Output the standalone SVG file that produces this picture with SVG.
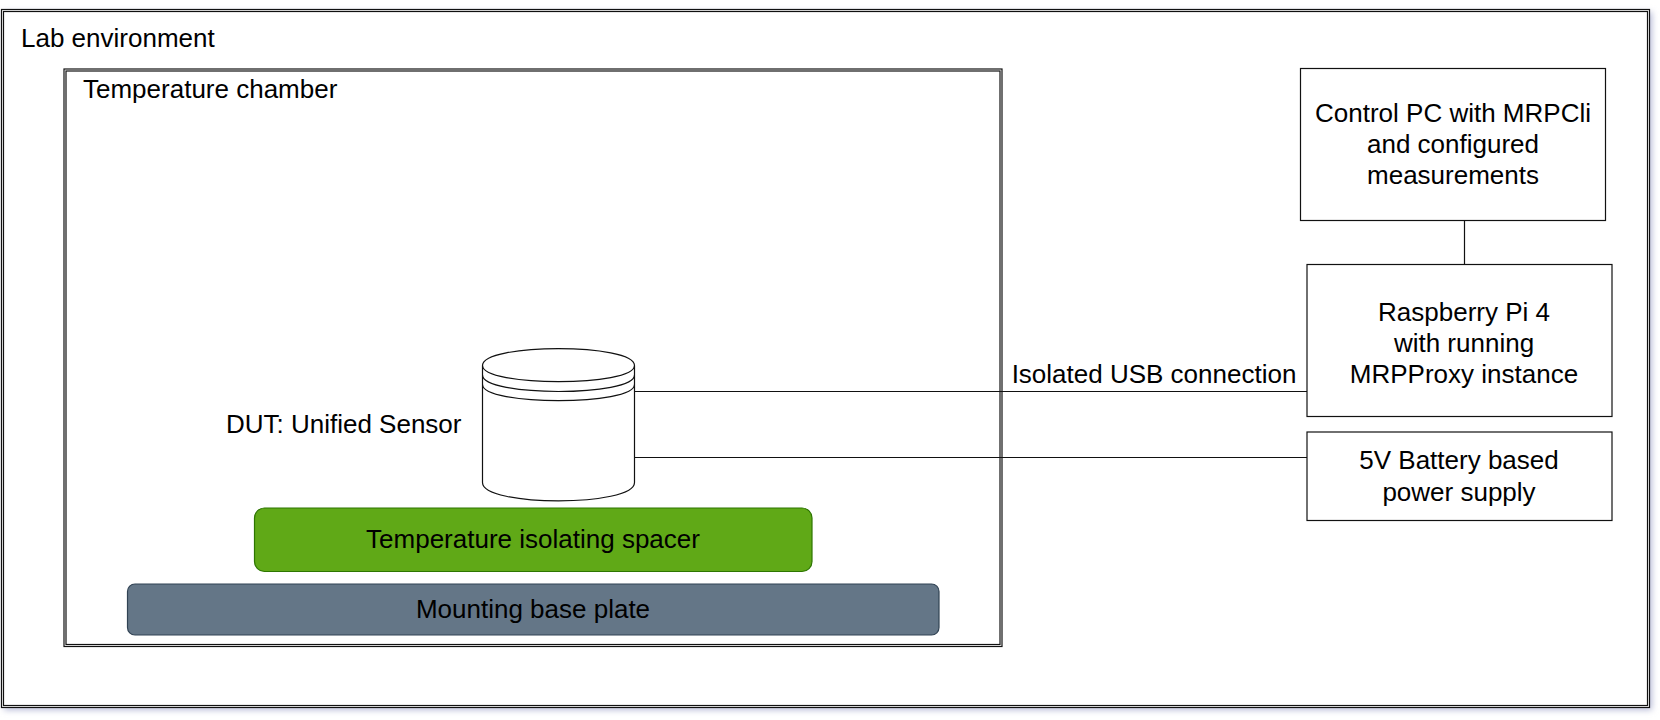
<svg xmlns="http://www.w3.org/2000/svg" width="1660" height="720" viewBox="0 0 1660 720">
<defs>
<filter id="shadow" x="-2%" y="-2%" width="104%" height="105%"><feGaussianBlur stdDeviation="3"/></filter>
</defs>
<style>
text{font-family:"Liberation Sans",Arial,sans-serif;font-size:26px;fill:#000}
.m{text-anchor:middle}
.b{fill:#fff;stroke:#111;stroke-width:1.2}
.f{fill:none;stroke:#111;stroke-width:1.2}
.d{fill:none;stroke:#111;stroke-width:1.2}
</style>
<rect width="1660" height="720" fill="#fff"/>
<g id="lab-environment">
<rect x="4" y="12" width="1648" height="698" fill="#b8bcd8" filter="url(#shadow)"/>
<rect x="1.5" y="9.5" width="1648" height="698" class="b"/>
<rect x="3.5" y="11.5" width="1644" height="694" class="f"/>
<text x="21" y="47">Lab environment</text>
</g>
<g id="temperature-chamber">
<rect x="64" y="69" width="938" height="577.5" class="b"/>
<rect x="66" y="71" width="934" height="573.5" class="f"/>
<text x="83" y="98">Temperature chamber</text>
</g>
<g id="connectors">
<path class="d" d="M635 391.5H1307M635 457.5H1307M1464.5 220.5V264.5"/>
<text x="1154" y="382.5" class="m">Isolated USB connection</text>
</g>
<g id="dut">
<path class="b" d="M482.5 365.5C482.5 343 634.5 343 634.5 365.5V482.5C634.5 507 482.5 507 482.5 482.5Z"/>
<path class="f" d="M482.5 365.5C482.5 387 634.5 387 634.5 365.5M482.5 375C482.5 397 634.5 397 634.5 375M482.5 384.5C482.5 406 634.5 406 634.5 384.5"/>
<text x="461.5" y="433" text-anchor="end">DUT: Unified Sensor</text>
</g>
<g id="spacer">
<rect x="254.5" y="508" width="557.5" height="63.5" rx="10" fill="#60a917" stroke="#2d7600" stroke-width="1.2"/>
<text x="533" y="548" class="m">Temperature isolating spacer</text>
</g>
<g id="base-plate">
<rect x="127.5" y="584" width="811.5" height="51" rx="7.5" fill="#647687" stroke="#314354" stroke-width="1.2"/>
<text x="533" y="618" class="m">Mounting base plate</text>
</g>
<g id="control-pc">
<rect x="1300.5" y="68.5" width="305" height="152" class="b"/>
<text x="1453" y="122" class="m">Control PC with MRPCli</text>
<text x="1453" y="153" class="m">and configured</text>
<text x="1453" y="184" class="m">measurements</text>
</g>
<g id="raspberry-pi">
<rect x="1307" y="264.5" width="305" height="152" class="b"/>
<text x="1464" y="320.5" class="m">Raspberry Pi 4</text>
<text x="1464" y="352" class="m">with running</text>
<text x="1464" y="383" class="m">MRPProxy instance</text>
</g>
<g id="power-supply">
<rect x="1307" y="432" width="305" height="88.5" class="b"/>
<text x="1459" y="469" class="m">5V Battery based</text>
<text x="1459" y="501" class="m">power supply</text>
</g>
</svg>
